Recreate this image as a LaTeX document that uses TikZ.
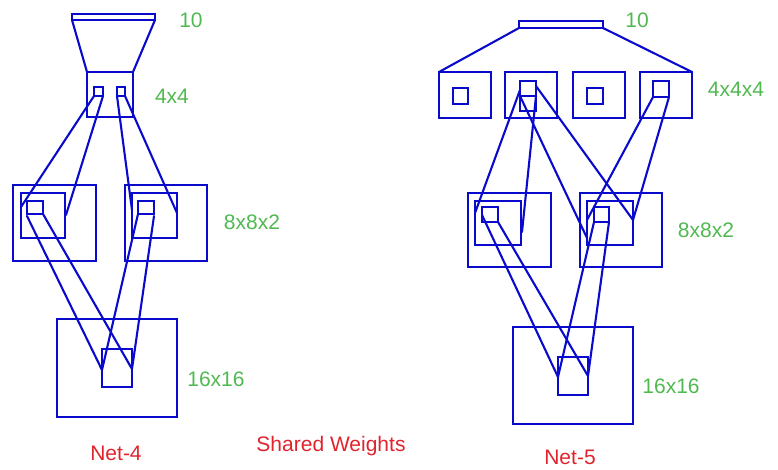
\documentclass[tikz,border=0pt]{standalone}
\usepackage{fontspec}
\setmainfont{Liberation Sans}
\definecolor{lnblue}{RGB}{10,10,205}
\definecolor{lbgreen}{RGB}{80,185,80}
\definecolor{lbred}{RGB}{225,35,45}
\tikzset{
  box/.style={draw=lnblue, line width=2.1pt, inner sep=0pt, outer sep=0pt},
  conn/.style={draw=lnblue, line width=2.1pt, line cap=round},
  dimlabel/.style={text=lbgreen, font=\fontsize{21}{25}\selectfont, inner sep=0pt},
  netlabel/.style={text=lbred, font=\fontsize{21}{25}\selectfont, inner sep=0pt}
}
\newcommand{\bx}[5]{\node[box, minimum width=#4-#2, minimum height=#5-#3] (#1) at ({(#2+#4)/2},{(#3+#5)/2}) {};}
\begin{document}
\begin{tikzpicture}[x=1pt,y=-1pt]
\useasboundingbox (0,0) rectangle (778,470);
% ---------------- Net-4 ----------------
\bx{bar4}{72}{14}{155}{20}
\bx{c4}{87}{72}{133}{117}
\bx{s4a}{94}{87}{103}{96}
\bx{s4b}{117}{87}{125}{96}
\draw[conn] (bar4.south west) -- (c4.north west);
\draw[conn] (bar4.south east) -- (c4.north east);
\bx{o8a}{13}{185}{96}{261}
\bx{i8a}{21}{193}{65}{238}
\bx{q8a}{27}{201}{43}{214}
\bx{o8b}{125}{185}{207}{261}
\bx{i8b}{132}{193}{177}{238}
\bx{q8b}{138}{201}{154}{214}
\bx{o16}{57}{319}{177}{417}
\bx{q16}{102}{349}{132}{387}
\coordinate (a1) at (21,207);
\coordinate (a2) at (66,215);
\coordinate (a3) at (132,210);
\coordinate (a4) at (177,213);
\coordinate (v1) at (102,370);
\coordinate (v2) at (132,369);
\draw[conn] (s4a.south west) -- (a1);
\draw[conn] (s4a.south east) -- (a2);
\draw[conn] (s4b.south west) -- (a3);
\draw[conn] (s4b.south east) -- (a4);
\draw[conn] ([yshift=-2pt]q8a.south west) -- (v1);
\draw[conn] (q8a.south east) -- (v2);
\draw[conn] (q8b.south west) -- (v1);
\draw[conn] ([yshift=-2pt]q8b.south east) -- (v2);
\node[dimlabel] (l10a) at (191,20) {10};
\node[dimlabel] (l44) at (172,96) {4x4};
\node[dimlabel] (l882a) at (252,222) {8x8x2};
\node[dimlabel] (l1616a) at (216,379) {16x16};
\node[netlabel] (net4) at (116,453) {Net-4};
\node[netlabel] (shared) at (331,446) {Shared Weights};
% ---------------- Net-5 ----------------
\bx{bar5}{519}{21}{603}{28}
\bx{b1}{439}{72}{491}{118}
\bx{b2}{505}{72}{557}{118}
\bx{b3}{573}{72}{625}{118}
\bx{b4}{640}{72}{692}{118}
\bx{sq1}{453}{88}{468}{104}
\bx{sq3}{587}{88}{603}{104}
\bx{sq2}{520}{81}{536}{96}
\bx{sq2b}{520}{96}{536}{111}
\bx{sq4}{653}{81}{669}{97}
\draw[conn] (bar5.south west) -- (b1.north west);
\draw[conn] (bar5.south east) -- (b4.north east);
\bx{lo8}{468}{193}{551}{267}
\bx{li8}{475}{201}{521}{245}
\bx{lq8}{482}{207}{498}{222}
\bx{ro8}{580}{193}{662}{267}
\bx{ri8}{587}{201}{633}{245}
\bx{rq8}{594}{207}{609}{222}
\bx{p16}{513}{327}{633}{424}
\bx{r16}{558}{357}{588}{395}
\coordinate (c1) at (475,213);
\coordinate (c2) at (522,232);
\coordinate (c3) at (587,238);
\coordinate (c4p) at (633,220);
\coordinate (c5) at (587,220);
\coordinate (w1) at (558,377);
\coordinate (w2) at (588,376);
\draw[conn] ([yshift=-9pt]sq2.north west) -- (c1);
\draw[conn] (sq2.south east) -- (c2);
\draw[conn] (sq2.south west) -- (c3);
\draw[conn] ([yshift=-5pt]sq2.north east) -- (c4p);
\draw[conn] (sq4.south west) -- (c5);
\draw[conn] (sq4.south east) -- (c4p);
\draw[conn] ([yshift=-8pt]lq8.north west) -- (w1);
\draw[conn] (lq8.south east) -- (w2);
\draw[conn] (rq8.south west) -- (w1);
\draw[conn] (rq8.south east) -- (w2);
\node[dimlabel] (l10b) at (637,20) {10};
\node[dimlabel] (l444) at (736,89) {4x4x4};
\node[dimlabel] (l882b) at (706,230) {8x8x2};
\node[dimlabel] (l1616b) at (671,386) {16x16};
\node[netlabel] (net5) at (570,457) {Net-5};
\end{tikzpicture}
\end{document}
